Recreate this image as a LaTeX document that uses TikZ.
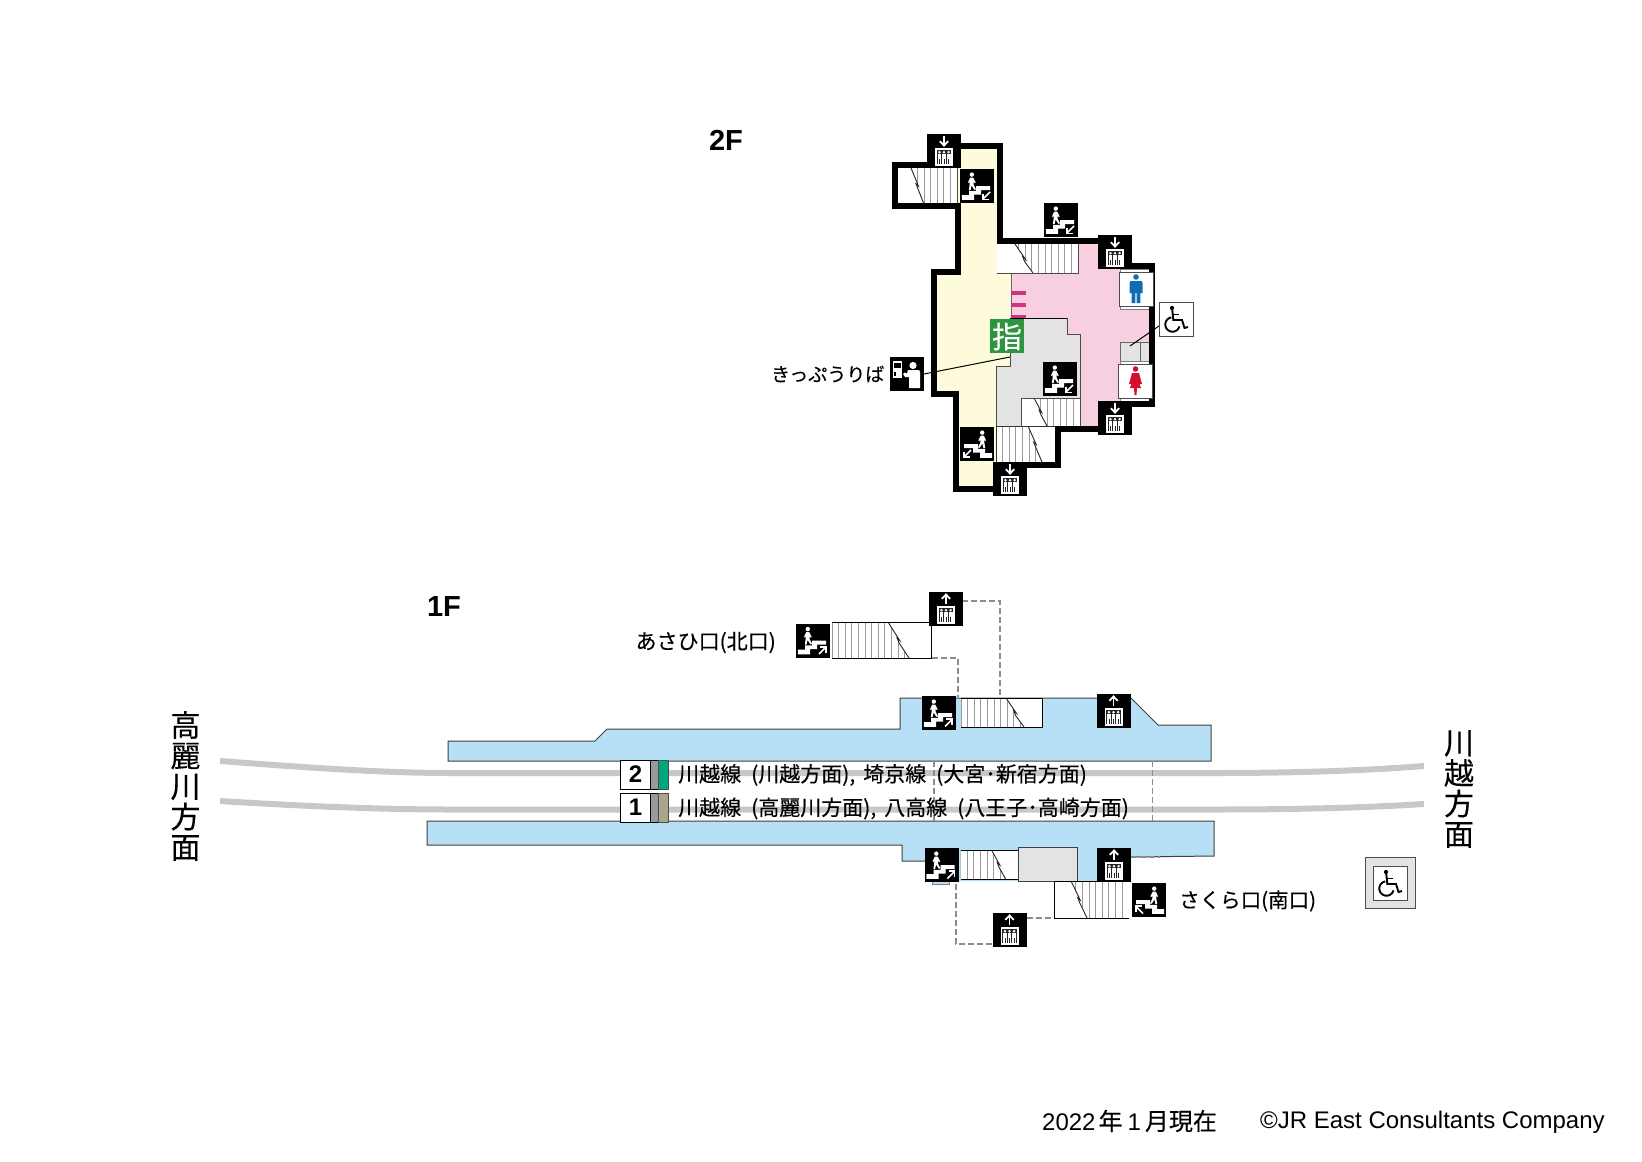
\documentclass[tikz,border=0pt]{standalone}
\usepackage{fontspec}
\setmainfont{Liberation Sans}
\newfontfamily\cjk[FakeBold=0.25]{Noto Sans CJK JP}
\definecolor{wallyellow}{HTML}{FEFBDC}
\definecolor{roompink}{HTML}{F7CFE1}
\definecolor{roomgray}{HTML}{E3E3E3}
\definecolor{platblue}{HTML}{B7E0F6}
\definecolor{trackgray}{HTML}{C8C8C8}
\definecolor{markpink}{HTML}{CF3381}
\definecolor{signgreen}{HTML}{2E9440}
\definecolor{manblue}{HTML}{0F6DB5}
\definecolor{womanred}{HTML}{D0102C}
\definecolor{linetan}{HTML}{ACA58E}
\definecolor{linegreen}{HTML}{00A67E}
\tikzset{
  thinout/.style={draw=black!75,line width=1pt},
  dashline/.style={draw=black!45,line width=1.1pt,dash pattern=on 6pt off 3pt},
  track/.style={draw=trackgray,line width=6pt},
  callout/.style={draw=black,line width=1pt},
  labeltxt/.style={inner sep=0pt,font=\cjk\fontsize{21}{25}\selectfont},
  stairline/.style={draw=black!40,line width=0.8pt},
  iconbox/.style={fill=white,draw=black!70,line width=1pt},
}
\newcommand{\stairbox}[7]{% x1 y1 x2 y2 dt db side(R/L)
  \pgfmathsetmacro{\mx}{(#5+#6)/2}\pgfmathsetmacro{\my}{(#2+#4)/2}
  \fill[white] (#1,#2) rectangle (#3,#4);
  \begin{scope}
    \if#7R\clip (#5,#2)--(#6,#4)--(#3,#4)--(#3,#2)--cycle;
    \else\clip (#5,#2)--(#6,#4)--(#1,#4)--(#1,#2)--cycle;\fi
    \foreach \sx in {0,...,14}{
      \if#7R\draw[stairline] ({#3-\sx*6.6},#2)--({#3-\sx*6.6},#4);
      \else\draw[stairline] ({#1+\sx*6.6},#2)--({#1+\sx*6.6},#4);\fi}
  \end{scope}
  \draw[black!85,line width=0.9pt] (#5,#2)--(\mx+1.2,\my+0.5)--(\mx-1.2,\my-1.5)--(\mx+0.6,\my+3)--(#6,#4);
}
\newcommand{\liftic}[3]{% x y dir(d/u)
  \begin{scope}[shift={(#1,#2)}]
    \fill[black] (0,0) rectangle (34,34);
    \if#3d
      \draw[white,line width=1.8pt] (17,2)--(17,11);
      \draw[white,line width=1.8pt] (12.8,7.2)--(17,11.5)--(21.2,7.2);
    \else
      \draw[white,line width=1.8pt] (17,3)--(17,12);
      \draw[white,line width=1.8pt] (12.8,6.8)--(17,2.5)--(21.2,6.8);
    \fi
    \fill[white] (8,14) rectangle (26,32);
    \fill[black!85] (9.8,15.8) rectangle (24.2,30.2);
    \foreach \px in {12.4,17,21.6}{
      \fill[white] (\px,18.2) circle (1.4);
      \fill[white] (\px-1.9,20) rectangle (\px+1.9,30.2);
      \draw[black!85,line width=0.4pt] (\px,25)--(\px,30.2);
    }
  \end{scope}
}
\newcommand{\stairic}[4]{% x y flip dir
  \begin{scope}[shift={(#1,#2)}]
    \fill[black] (0,0) rectangle (34,34);
    \begin{scope}[shift={(17,0)},xscale=#3,shift={(-17,0)}]
      \fill[white] (1.8,30.8)--(1.8,26)--(9,26)--(9,21.8)--(16,21.8)--(16,17.2)--(30,17.2)--(30,21)--(21,21)--(21,25.5)--(14,25.5)--(14,30.8)--cycle;
      \fill[white] (11.8,5.6) circle (2.2);
      \fill[white] (10.2,8.6)--(13.2,8.6)--(15.6,13.4)--(14.8,14.2)--(13.6,12.6)--(13.6,15.5)--(16,20.5)--(14.3,20.8)--(11.6,16.5)--(10.6,21)--(8.9,21)--(9.8,14)--(9.8,12.5)--(9,14)--(8,13.4)--cycle;
      \if#4d\draw[white,line width=1.7pt] (30,23)--(23.2,29.8);\draw[white,line width=1.7pt] (23,24.5)--(23,30.5)--(29,30.5);\fi
      \if#4u\draw[white,line width=1.7pt] (23,30.5)--(29.8,23.7);\draw[white,line width=1.7pt] (24,23.3)--(30,23.3)--(30,29.3);\fi
      \if#4s\draw[white,line width=1.7pt] (23,23)--(29.8,29.8);\draw[white,line width=1.7pt] (30,24.5)--(30,30.3)--(24,30.3);\fi
    \end{scope}
  \end{scope}
}
\newcommand{\wheelic}[2]{%
  \begin{scope}[shift={(#1,#2)}]
    \fill[black] (13,6) circle (2.1);
    \draw[black,line width=1.9pt] (13.3,8)--(14.3,18)--(23,18)--(25.5,26)--(29,25);
    \draw[black,line width=1.9pt] (13.7,12.5)--(20,12.5);
    \draw[black,line width=1.9pt] plot[domain=100:345,samples=30] ({13.5+7.2*cos(\x)},{22.5-7.2*sin(\x)});
  \end{scope}
}
\begin{document}
\begin{tikzpicture}[x=1pt,y=-1pt]
\useasboundingbox (0,0) rectangle (1642,1162);
\fill[white] (0,0) rectangle (1642,1162);
% ===== 2F =====
\fill[wallyellow] (1000,146)--(1000,241)--(1115,241)--(1115,266)--(1152,266)--(1152,403.5)--(1115,403.5)--(1115,428.5)--(1057.5,428.5)--(1057.5,464.5)--(1010,464.5)--(1010,489)--(956,489)--(956,394)--(934,394)--(934,271.5)--(957.5,271.5)--(957.5,206)--(895,206)--(895,165)--(944,165)--(944,146)--cycle;
\fill[roompink] (1011,273)--(1078,273)--(1078,244)--(1115,244)--(1115,268)--(1152,268)--(1152,403)--(1098,403)--(1098,428)--(1080,428)--(1080,334)--(1067,334)--(1067,318)--(1011,318)--cycle;
\draw[black!60,line width=0.8pt] (1011,273)--(1011,318);
\fill[markpink] (1011,291) rectangle (1026,295);
\fill[markpink] (1011,303) rectangle (1026,307);
\fill[markpink] (1011,315) rectangle (1026,318);
\filldraw[fill=roomgray,draw=black!70,line width=1pt] (1010,318)--(1067,318)--(1067,334)--(1080,334)--(1080,426)--(996,426)--(996,366)--(1010,366)--cycle;
\draw[black,line width=1pt] (1010,318)--(1067,318);
\fill[roomgray] (1120,342) rectangle (1150,364);
\draw[black!60,line width=1pt] (1120,342)--(1150,342);
\filldraw[fill=roomgray,draw=black!60,line width=1pt] (1120,342) rectangle (1140,361);
\filldraw[fill=white,draw=black!50,line width=1pt] (1120,269) rectangle (1150,309);
\filldraw[fill=white,draw=black!50,line width=1pt] (1120,361) rectangle (1150,401);
\stairbox{898}{168}{957}{203}{911}{923.5}{R}
\draw[black!70,line width=1pt] (957,168)--(957,203);
\stairbox{997}{244}{1078}{273}{1015}{1033}{R}
\draw[black!70,line width=1pt] (997,273)--(1078,273)--(1078,244);
\stairbox{1021}{398}{1080}{426}{1034}{1047}{R}
\draw[black!70,line width=1pt] (1021,426)--(1021,398)--(1080,398)--(1080,426);
\stairbox{996}{426}{1055}{462}{1028}{1042}{L}
\draw[black!80,line width=1pt] (996,462)--(996,426)--(1055,426);
% walls
\draw[black,line width=6pt,line join=miter] (1000,146)--(1000,241)--(1115,241)--(1115,266)--(1152,266)--(1152,403.5)--(1115,403.5)--(1115,428.5)--(1057.5,428.5)--(1057.5,464.5)--(1010,464.5)--(1010,489)--(956,489)--(956,394)--(934,394)--(934,271.5)--(957.5,271.5)--(957.5,206)--(895,206)--(895,165)--(944,165)--(944,146)--cycle;
% 2F callouts
\coordinate (tickfrom) at (924,374);
\coordinate (tickto) at (1010,357);
\draw[callout] (tickfrom)--(tickto);
\coordinate (wcfrom) at (1159,326);
\coordinate (wcto) at (1130,346);
\draw[callout] (wcfrom)--(wcto);
% 2F icons
\liftic{927}{134}{d}
\liftic{1098}{235}{d}
\liftic{1098}{401}{d}
\liftic{993}{462}{d}
\stairic{960}{169}{1}{d}
\stairic{1044}{203}{1}{d}
\stairic{1043}{362}{1}{d}
\stairic{960}{427}{-1}{s}
% toilets
\begin{scope}[shift={(1119,272)}]
  \filldraw[iconbox] (0,0) rectangle (34,34);
  \fill[manblue] (17,5) circle (2.8);
  \fill[manblue] (11.5,9)--(22.5,9)--(23.5,11)--(23.5,21)--(21.3,21)--(21.3,31)--(17.6,31)--(17.6,21)--(16.4,21)--(16.4,31)--(12.7,31)--(12.7,21)--(10.5,21)--(10.5,11)--cycle;
\end{scope}
\begin{scope}[shift={(1118.5,364)}]
  \filldraw[iconbox] (0,0) rectangle (34,34);
  \fill[womanred] (17,5) circle (2.8);
  \fill[womanred] (13.5,9)--(20.5,9)--(23.5,20)--(21,20)--(22.5,24)--(18.5,24)--(18,31)--(16,31)--(15.5,24)--(11.5,24)--(13,20)--(10.5,20)--cycle;
\end{scope}
\filldraw[iconbox] (1159,302) rectangle (1193,336);
\wheelic{1159}{302}
% green sign
\fill[signgreen] (990,319) rectangle (1024,353);
\node[inner sep=0pt,text=white,font=\cjk\fontsize{30}{32}\selectfont] (signshi) at (1007,336.5) {指};
% ticket
\begin{scope}[shift={(890,357)}]
  \fill[black] (0,0) rectangle (34,34);
  \fill[white] (2.5,4) rectangle (12,21);
  \fill[black] (4,6) rectangle (10.5,11);
  \fill[black] (4,15) rectangle (6,19);
  \fill[white] (23,8.5) circle (3.6);
  \fill[white] (18,13)--(29,13)--(30,15)--(30,31)--(19,31)--(19,20)--(15,20)--(13,17)--(14.5,15.5)--(17,16.5)--cycle;
\end{scope}
\node[labeltxt,anchor=east,font=\cjk\fontsize{19}{22}\selectfont] (kippu) at (884.5,374) {きっぷうりば};
\node[inner sep=0pt,font=\bfseries\fontsize{29}{32}\selectfont] (f2) at (726,140) {2F};
\node[inner sep=0pt,font=\bfseries\fontsize{29}{32}\selectfont] (f1) at (444,607) {1F};
% ===== 1F =====
\draw[track] (220,761) .. controls (300,767) and (380,773) .. (450,773)--(1215,773) .. controls (1290,773) and (1360,771) .. (1424,766);
\draw[track] (220,801) .. controls (300,806) and (380,809.5) .. (450,809.5)--(1215,809.5) .. controls (1290,809.5) and (1360,808) .. (1424,804);
% platforms
\filldraw[fill=platblue,draw=black!75,line width=1pt] (448,741)--(595,741)--(607,729)--(900,729)--(900,698)--(1131,698)--(1158,725)--(1211,725)--(1211,761)--(448,761)--cycle;
\fill[platblue] (427,821)--(1214,821)--(1214,856)--(1131,857)--(1131,881)--(958,881)--(949,881)--(949,884)--(932,884)--(932,861)--(902,861)--(902,845)--(427,845)--cycle;
\draw[black!75,line width=1pt] (932,861)--(902,861)--(902,845)--(427,845)--(427,821)--(1214,821)--(1214,856)--(1131,857);
\draw[black!50,line width=1pt] (932,881)--(932,884)--(949,884)--(949,881);
% dashed
\draw[dashline] (962,601)--(1000,601)--(1000,698);
\draw[dashline] (931.5,658)--(958,658)--(958,697);
\draw[dashline] (934,761)--(934,821);
\draw[dashline] (1152.6,761)--(1152.6,821);
\draw[dashline] (1131,857)--(1159.5,857);
\draw[dashline] (1027,918)--(1054,918);
\draw[dashline] (992,944)--(956,944)--(956,883);
% stairs
\stairbox{832}{622}{931.5}{658}{888}{909}{L}
\draw[black,line width=1pt] (832,622)--(931.5,622)--(931.5,658)--(832,658);
\stairbox{961}{698}{1042.5}{727}{1006}{1024}{L}
\draw[black,line width=1pt] (961,698)--(1042.5,698)--(1042.5,727)--(961,727);
\stairbox{960.5}{850}{1018}{879}{991.5}{1005.6}{L}
\draw[black,line width=1pt] (960.5,850)--(1018,850);\draw[black,line width=1pt] (960.5,879)--(1018,879);
\filldraw[fill=roomgray,draw=black!75,line width=1pt] (1018,847) rectangle (1077,881);
\stairbox{1054}{881}{1128.5}{918}{1071}{1087}{R}
\draw[black,line width=1pt] (1128.5,881)--(1054,881)--(1054,918)--(1128.5,918);
% icons
\liftic{929}{592}{u}
\liftic{1096.5}{694}{u}
\liftic{1097}{848}{u}
\liftic{992.5}{913}{u}
\stairic{796}{623.5}{1}{u}
\stairic{922}{696}{1}{u}
\stairic{924.5}{848}{1}{u}
\stairic{1132}{883}{-1}{u}
% track boxes
\filldraw[iconbox,draw=black] (620,760) rectangle (650.5,789);
\filldraw[fill=black!40,draw=black,line width=0.8pt] (650.5,760) rectangle (658.5,789);
\filldraw[fill=linegreen,draw=black!70,line width=0.8pt] (658.5,760) rectangle (668,789);
\filldraw[iconbox,draw=black] (620,793) rectangle (650.5,822);
\filldraw[fill=black!40,draw=black,line width=0.8pt] (650.5,793) rectangle (658.5,822);
\filldraw[fill=linetan,draw=black!70,line width=0.8pt] (658.5,793) rectangle (668,822);
\node[inner sep=0pt,font=\bfseries\fontsize{24}{26}\selectfont] (num2) at (635.5,774.5) {2};
\node[inner sep=0pt,font=\bfseries\fontsize{24}{26}\selectfont] (num1) at (635.5,807.5) {1};
\node[labeltxt,anchor=west] (line2) at (678,775) {川越線\hspace{10pt}(川越方面),\hspace{8pt}埼京線\hspace{10pt}(大宮･新宿方面)};
\node[labeltxt,anchor=west] (line1) at (678,808.5) {川越線\hspace{10pt}(高麗川方面),\hspace{8pt}八高線\hspace{10pt}(八王子･高崎方面)};
\node[labeltxt,anchor=east] (north) at (776,642.5) {あさひ口(北口)};
\node[labeltxt,anchor=west,font=\cjk\fontsize{20.5}{25}\selectfont] (south) at (1179,901) {さくら口(南口)};
\node[inner sep=0pt,align=center,font=\cjk\fontsize{30}{30.5}\selectfont] (westdir) at (185.5,786) {高\\麗\\川\\方\\面};
\node[inner sep=0pt,align=center,font=\cjk\fontsize{30}{30.5}\selectfont] (eastdir) at (1459,789) {川\\越\\方\\面};
% lift wheelchair sign
\filldraw[fill=roomgray,draw=black!70,line width=1pt] (1365,857) rectangle (1415,908);
\filldraw[iconbox] (1373,866) rectangle (1407,900);
\wheelic{1373}{866}
% footer
\node[inner sep=0pt,anchor=west,font=\fontsize{24}{28}\selectfont] (date) at (1042,1121) {2022\hspace{3pt}{\cjk 年}\hspace{5pt}1\hspace{4pt}{\cjk 月現在}};
\node[inner sep=0pt,anchor=west,font=\fontsize{24}{28}\selectfont] (copy) at (1260,1122) {©JR East Consultants Company};
\end{tikzpicture}
\end{document}
